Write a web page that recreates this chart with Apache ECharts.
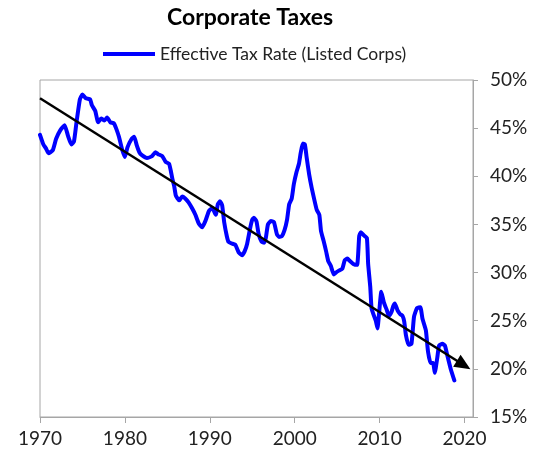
<!DOCTYPE html>
<html>
<head>
<meta charset="utf-8">
<script src="https://cdn.jsdelivr.net/npm/echarts@6/dist/echarts.min.js"></script>
<style>
  html, body { margin: 0; padding: 0; background: #fff; }
  #main { width: 536px; height: 458px; }
</style>
</head>
<body>
<div id="main"></div>
<script>
// effective tax rate (year, %)
var years = [
  1970.0, 1970.4, 1970.7, 1971.0, 1971.5, 1971.9, 1972.4, 1972.9, 1973.3, 1973.7,
  1974.0, 1974.3, 1974.7, 1975.0, 1975.4, 1975.9, 1976.1, 1976.5, 1976.85, 1977.2,
  1977.6, 1977.9, 1978.3, 1978.7, 1979.0, 1979.3, 1979.7, 1980.0, 1980.3, 1980.8,
  1981.1, 1981.4, 1981.7, 1982.0, 1982.6, 1983.2, 1983.6, 1983.9, 1984.4, 1984.8,
  1985.2, 1985.4, 1985.6, 1985.8, 1986.0, 1986.4, 1986.75, 1987.1, 1987.5, 1987.9,
  1988.3, 1988.7, 1989.1, 1989.5, 1989.9, 1990.3, 1990.7, 1990.95, 1991.2, 1991.45,
  1991.7, 1992.0, 1992.2, 1992.65, 1993.0, 1993.4, 1993.8, 1994.1, 1994.4, 1994.75,
  1995.0, 1995.2, 1995.5, 1995.75, 1996.1, 1996.4, 1996.6, 1996.85, 1997.2, 1997.55,
  1997.9, 1998.15, 1998.5, 1998.8, 1999.1, 1999.35, 1999.65, 1999.9, 2000.2, 2000.5,
  2000.7, 2000.95, 2001.2, 2001.4, 2001.7, 2002.0, 2002.3, 2002.6, 2002.9, 2003.1,
  2003.4, 2003.7, 2003.95, 2004.25, 2004.6, 2004.85, 2005.2, 2005.6, 2005.9, 2006.2,
  2006.5, 2006.9, 2007.35, 2007.6, 2007.8, 2008.1, 2008.5, 2008.65, 2008.9, 2009.05,
  2009.3, 2009.55, 2009.75, 2009.95, 2010.2, 2010.5, 2010.85, 2011.1, 2011.4, 2011.6,
  2011.8, 2012.1, 2012.4, 2012.7, 2012.9, 2013.1, 2013.4, 2013.75, 2014.05, 2014.4,
  2014.8, 2015.05, 2015.45, 2015.7, 2016.0, 2016.3, 2016.5, 2016.8, 2017.0, 2017.4,
  2017.7, 2018.0, 2018.4, 2018.8
];
var taxRate = [
  44.3, 43.3, 42.9, 42.4, 42.7, 43.9, 44.8, 45.3, 44.2, 43.3,
  43.6, 45.6, 48.0, 48.5, 48.1, 48.0, 47.4, 46.8, 45.6, 46.0,
  45.8, 46.1, 45.6, 45.5, 44.9, 44.1, 42.7, 42.0, 43.0, 43.9,
  44.1, 43.2, 42.5, 42.2, 41.9, 42.1, 42.5, 42.3, 42.1, 41.5,
  41.3, 40.6, 39.7, 39.0, 38.0, 37.5, 37.9, 37.7, 37.3, 36.7,
  36.0, 35.1, 34.7, 35.4, 36.4, 36.7, 36.0, 37.1, 37.4, 37.0,
  35.2, 33.8, 33.2, 33.0, 32.9, 32.1, 31.8, 32.2, 33.0, 34.6,
  35.5, 35.7, 35.3, 34.0, 33.2, 33.1, 33.6, 35.0, 35.35, 35.25,
  34.0, 33.7, 33.8, 34.4, 35.5, 37.1, 37.7, 39.2, 40.4, 41.3,
  42.4, 43.4, 43.3, 42.0, 40.2, 38.8, 37.6, 36.5, 36.0, 34.3,
  33.3, 32.2, 31.2, 30.7, 29.8, 30.0, 30.2, 30.4, 31.3, 31.45,
  31.2, 30.9, 30.8, 33.8, 34.2, 33.9, 33.6, 30.9, 28.5, 26.3,
  25.6, 25.0, 24.2, 25.9, 28.0, 26.9, 26.1, 25.5, 25.9, 26.5,
  26.8, 26.1, 25.7, 25.5, 24.9, 23.5, 22.5, 22.6, 25.4, 26.3,
  26.4, 25.2, 24.0, 21.8, 20.6, 20.6, 19.6, 21.2, 22.4, 22.6,
  22.4, 21.3, 19.9, 18.8
];
// trend arrow: start and end (year, %)
var trendStart = [1970, 48.1];
var trendEnd = [2019.9, 20.4];
var xTicks = [1970, 1980, 1990, 2000, 2010, 2020];

var seriesData = [];
for (var i = 0; i < years.length; i++) {
  seriesData.push([years[i], taxRate[i]]);
}

var myChart = echarts.init(document.getElementById('main'));
var fontFam = 'Lato, "Noto Sans", sans-serif';

var option = {
  animation: false,
  title: {
    text: 'Corporate Taxes',
    left: 245,
    textAlign: 'center',
    top: 1,
    textStyle: { fontFamily: fontFam, fontSize: 23, fontWeight: 'bold', color: '#000' }
  },
  legend: {
    data: ['Effective Tax Rate (Listed Corps)'],
    left: 98,
    top: 40,
    icon: 'rect',
    itemWidth: 52,
    itemHeight: 4,
    itemGap: 5,
    textStyle: { fontFamily: fontFam, fontSize: 17.5, color: '#222' }
  },
  grid: {
    left: 40,
    right: 63,
    top: 80,
    bottom: 41,
    show: true,
    borderColor: '#a6a6a6',
    borderWidth: 1
  },
  xAxis: {
    type: 'value',
    min: 1970,
    max: 2021,
    interval: 10,
    splitLine: { show: false },
    axisLine: { lineStyle: { color: '#a6a6a6', width: 1 } },
    axisTick: { show: true, length: 6, customValues: xTicks, lineStyle: { color: '#a6a6a6' } },
    axisLabel: {
      customValues: xTicks,
      margin: 12,
      fontFamily: fontFam, fontSize: 19, color: '#222',
      formatter: function (v) { return String(v); }
    }
  },
  yAxis: {
    type: 'value',
    position: 'right',
    min: 15,
    max: 50,
    interval: 5,
    splitLine: { show: false },
    axisLine: { show: true, lineStyle: { color: '#a6a6a6', width: 1 } },
    axisTick: { show: true, length: 5, lineStyle: { color: '#a6a6a6' } },
    axisLabel: {
      margin: 17,
      fontFamily: fontFam, fontSize: 19, color: '#222',
      formatter: '{value}%'
    }
  },
  series: [
    {
      name: 'Effective Tax Rate (Listed Corps)',
      type: 'line',
      data: seriesData,
      showSymbol: false,
      smooth: 0.15,
      color: '#0000ff',
      lineStyle: { color: '#0000ff', width: 4, join: 'round', cap: 'round' },
      z: 2,
      markLine: {
        silent: true,
        symbol: ['none', 'triangle'],
        symbolSize: [14, 16],
        label: { show: false },
        lineStyle: { color: '#000', width: 2.5, type: 'solid' },
        itemStyle: { color: '#000' },
        data: [[{ coord: trendStart }, { coord: trendEnd }]],
        z: 3
      }
    }
  ]
};
myChart.setOption(option);
</script>
</body>
</html>
